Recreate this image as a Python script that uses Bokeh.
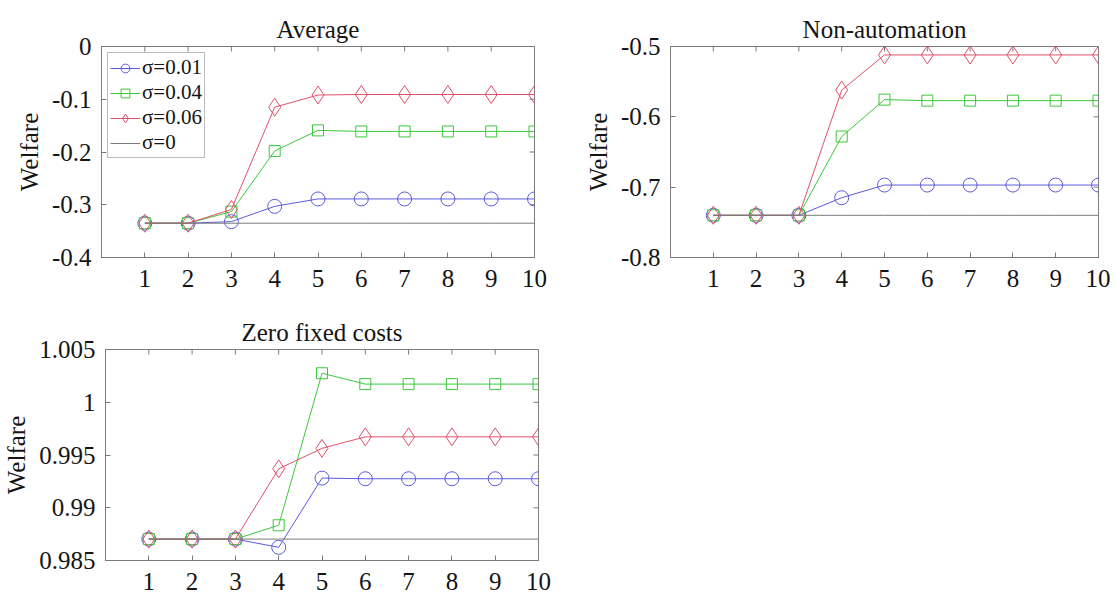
import math
from bokeh.plotting import figure
from bokeh.layouts import column, row
from bokeh.models import FixedTicker, Range1d, Legend, LegendItem
from bokeh.embed import file_html
from bokeh.resources import INLINE

# ---------------- data ----------------
periods = [1, 2, 3, 4, 5, 6, 7, 8, 9, 10]
series_labels = ["σ=0.01", "σ=0.04", "σ=0.06", "σ=0"]

avg_s001 = [-0.335, -0.335, -0.332, -0.303, -0.289, -0.289, -0.289, -0.289, -0.289, -0.289]
avg_s004 = [-0.335, -0.335, -0.313, -0.198, -0.159, -0.161, -0.161, -0.161, -0.161, -0.161]
avg_s006 = [-0.335, -0.335, -0.309, -0.115, -0.092, -0.091, -0.091, -0.091, -0.091, -0.091]
avg_s0 = [-0.335, -0.335, -0.335, -0.335, -0.335, -0.335, -0.335, -0.335, -0.335, -0.335]

nonauto_s001 = [-0.740, -0.740, -0.740, -0.715, -0.697, -0.697, -0.697, -0.697, -0.697, -0.697]
nonauto_s004 = [-0.740, -0.740, -0.740, -0.628, -0.5755, -0.577, -0.577, -0.577, -0.577, -0.577]
nonauto_s006 = [-0.740, -0.740, -0.740, -0.562, -0.512, -0.512, -0.512, -0.512, -0.512, -0.512]
nonauto_s0 = [-0.740, -0.740, -0.740, -0.740, -0.740, -0.740, -0.740, -0.740, -0.740, -0.740]

zero_s001 = [0.98703, 0.98703, 0.98703, 0.98625, 0.99281, 0.99275, 0.99275, 0.99275, 0.99275, 0.99275]
zero_s004 = [0.98703, 0.98703, 0.98703, 0.98834, 1.00275, 1.00172, 1.00172, 1.00172, 1.00172, 1.00172]
zero_s006 = [0.98703, 0.98703, 0.98703, 0.99369, 0.99563, 0.99672, 0.99672, 0.99672, 0.99672, 0.99672]
zero_s0 = [0.98703, 0.98703, 0.98703, 0.98703, 0.98703, 0.98703, 0.98703, 0.98703, 0.98703, 0.98703]

avg_yticks = [-0.4, -0.3, -0.2, -0.1, 0.0]
avg_ylabels = ["-0.4", "-0.3", "-0.2", "-0.1", "0"]
nonauto_yticks = [-0.8, -0.7, -0.6, -0.5]
nonauto_ylabels = ["-0.8", "-0.7", "-0.6", "-0.5"]
zero_yticks = [0.985, 0.99, 0.995, 1.0, 1.005]
zero_ylabels = ["0.985", "0.99", "0.995", "1", "1.005"]

# ---------------- style ----------------
FONT = "Liberation Serif"
BOX = "#7a7a7a"
TXT = "#151515"
COLORS = ["#5a5ae0", "#3cc83c", "#e0506a", "#7a7a7a"]
MARKERS = ["circle", "square", "diamond"]
MSIZES = [14, 11, 18]
FS = "25px"


def panel(title, ys, yr, yticks, ylabels, fw, fh, left, right, top, bottom, legend=False):
    x0, x1 = 0, 10
    p = figure(frame_width=fw, frame_height=fh, output_backend="svg", toolbar_location=None,
               x_range=Range1d(x0, x1), y_range=Range1d(yr[0], yr[1]),
               min_border_left=left, min_border_right=right,
               min_border_top=top, min_border_bottom=bottom)
    p.title.text = title
    p.title.align = "center"
    p.title.text_font = FONT
    p.title.text_font_size = FS
    p.title.text_font_style = "normal"
    p.title.text_color = TXT
    p.title.standoff = 8
    p.grid.visible = False
    p.outline_line_color = BOX
    p.outline_line_width = 1
    p.background_fill_color = "white"
    p.border_fill_color = "white"

    override = {t: l for t, l in zip(yticks, ylabels)}
    for ax in p.xaxis:
        ax.ticker = FixedTicker(ticks=periods)
        ax.major_label_standoff = 12
    for ax in p.yaxis:
        ax.ticker = FixedTicker(ticks=yticks)
        ax.major_label_overrides = override
        ax.major_label_standoff = 10
        ax.axis_label = "Welfare"
        ax.axis_label_text_font = FONT
        ax.axis_label_text_font_size = FS
        ax.axis_label_text_font_style = "normal"
        ax.axis_label_text_color = TXT
        ax.axis_label_standoff = 6
    for ax in list(p.xaxis) + list(p.yaxis):
        ax.major_tick_in = 5
        ax.major_tick_out = 0
        ax.minor_tick_line_color = None
        ax.axis_line_color = BOX
        ax.major_tick_line_color = BOX
        ax.major_label_text_font = FONT
        ax.major_label_text_font_size = FS
        ax.major_label_text_color = TXT

    # mirrored inward ticks on the top and right edges (half of each dash is clipped by the frame)
    p.scatter(periods, [yr[1]] * len(periods), marker="dash", angle=math.pi / 2, size=10,
              line_color=BOX, line_width=1)
    p.scatter([x1] * len(yticks), yticks, marker="dash", size=10,
              line_color=BOX, line_width=1)

    items = []
    for i in range(3):
        ln = p.line(periods, ys[i], line_color=COLORS[i], line_width=1)
        sc = p.scatter(periods, ys[i], marker=MARKERS[i], size=MSIZES[i], fill_color=None,
                       line_color=COLORS[i], line_width=1)
        items.append(LegendItem(label=series_labels[i], renderers=[ln, sc]))
    l0 = p.line(periods, ys[3], line_color=COLORS[3], line_width=1)
    items.append(LegendItem(label=series_labels[3], renderers=[l0]))

    if legend:
        lg = Legend(items=items, location="top_left")
        lg.label_text_font = FONT
        lg.label_text_font_size = "21px"
        lg.label_text_color = TXT
        lg.glyph_width = 30
        lg.glyph_height = 22
        lg.label_height = 22
        lg.label_standoff = 2
        lg.spacing = 0
        lg.padding = 2
        lg.margin = 6
        lg.border_line_color = BOX
        lg.background_fill_alpha = 1.0
        p.add_layout(lg)
    return p


f1 = panel("Average", [avg_s001, avg_s004, avg_s006, avg_s0], (-0.4, 0.0),
           avg_yticks, avg_ylabels, 433, 211, 101, 26, 46, 46, legend=True)
f2 = panel("Non-automation", [nonauto_s001, nonauto_s004, nonauto_s006, nonauto_s0], (-0.8, -0.5),
           nonauto_yticks, nonauto_ylabels, 428, 211, 110, 12, 46, 46)
f3 = panel("Zero fixed costs", [zero_s001, zero_s004, zero_s006, zero_s0], (0.985, 1.005),
           zero_yticks, zero_ylabels, 433, 211, 101, 26, 46, 36)

layout = column(row(f1, f2), f3)
open("out.html", "w").write(file_html(layout, INLINE))
